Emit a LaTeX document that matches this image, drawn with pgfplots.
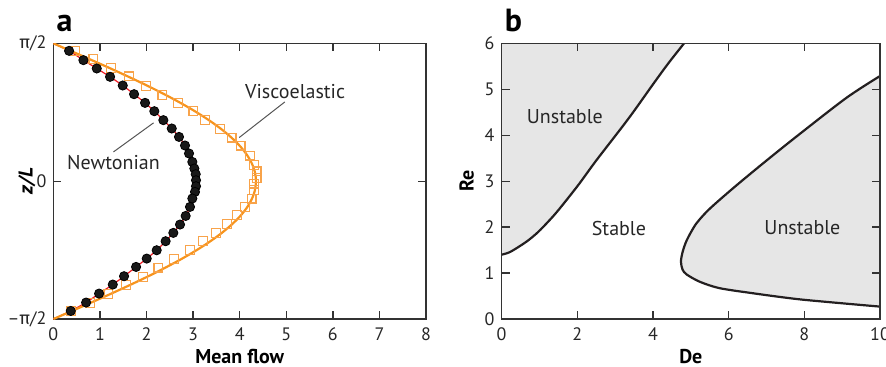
\documentclass[border=0pt]{standalone}
\usepackage{pgfplots}
\pgfplotsset{compat=1.18}
\usepackage{fontspec}
\setmainfont{PT Sans}
\newfontfamily\grk{Fira Sans}
\definecolor{vorange}{HTML}{F7941D}
\definecolor{sqorange}{HTML}{F8A34A}
\definecolor{nred}{HTML}{ED1C24}
\definecolor{fillgray}{HTML}{E6E6E6}
\definecolor{curvek}{HTML}{231F20}
\definecolor{leader}{HTML}{555555}
\begin{document}
\begin{tikzpicture}
\pgfplotsset{
  every axis/.append style={
    scale only axis,
    axis line style={line width=0.7pt, black!80},
    tick style={line width=0.7pt, black!80},
    major tick length=4pt,
    tick align=inside,
    xtick pos=both, ytick pos=both,
    tick label style={font=\fontsize{9}{10}\selectfont, text=black!85},
    label style={font=\bfseries\fontsize{10}{12}\selectfont},
    /pgf/number format/assume math mode=true,
    xticklabel style={yshift=-1pt},
  }
}
% ---------------- panel a ----------------
\begin{axis}[
  at={(0,0)}, anchor=south west,
  width=186.3pt, height=137.8pt,
  xmin=0, xmax=8, ymin=-1.5708, ymax=1.5708,
  xtick={0,1,2,3,4,5,6,7,8},
  ytick={-1.5708,0,1.5708},
  yticklabels={{–{\grk π}/2},{0},{{\grk π}/2}},
  xlabel={Mean flow},
  ylabel={\textbf{\textit{z/L}}},
  xlabel style={yshift=3pt},
  ylabel style={at={(axis description cs:-0.071,0.5)}, anchor=center},
  clip mode=individual,
]
% Newtonian fit (red line)
\addplot[nred, line width=0.6pt, smooth, tension=0.4] coordinates {
(0,1.5708) (0.337,1.486) (0.644,1.380) (0.931,1.285) (1.217,1.190) (1.489,1.091)
(1.732,0.992) (1.968,0.893) (2.167,0.798) (2.361,0.696) (2.541,0.601) (2.697,0.505)
(2.826,0.407) (2.912,0.316) (2.983,0.220) (3.026,0.145) (3.056,0.080) (3.062,0.011)
(3.062,-0.057) (3.040,-0.122) (2.983,-0.197) (2.933,-0.293) (2.840,-0.396) (2.719,-0.494)
(2.575,-0.589) (2.410,-0.684) (2.218,-0.787) (2.004,-0.882) (1.775,-0.977) (1.517,-1.083)
(1.275,-1.178) (0.981,-1.281) (0.702,-1.383) (0.373,-1.479) (0,-1.5708)
};
% Viscoelastic fit (orange line)
\addplot[vorange, line width=1.1pt, smooth, tension=0.5] coordinates {
(0,1.5708) (0.308,1.5) (0.739,1.4) (1.164,1.3) (1.576,1.2) (1.973,1.1) (2.350,1.0)
(2.704,0.9) (3.031,0.8) (3.327,0.7) (3.590,0.6) (3.817,0.5) (4.007,0.4) (4.156,0.3)
(4.263,0.2) (4.328,0.1) (4.350,0) (4.328,-0.1) (4.263,-0.2) (4.156,-0.3) (4.007,-0.4)
(3.817,-0.5) (3.590,-0.6) (3.327,-0.7) (3.031,-0.8) (2.704,-0.9) (2.350,-1.0)
(1.973,-1.1) (1.576,-1.2) (1.164,-1.3) (0.739,-1.4) (0.308,-1.5) (0,-1.5708)
};
% Viscoelastic data (open squares)
\addplot[only marks, mark=square, mark size=2.2pt, sqorange, mark options={line width=0.6pt}] coordinates {
(0.466,1.486) (0.858,1.395) (1.238,1.288) (1.624,1.194) (1.982,1.087) (2.339,0.984)
(2.669,0.889) (3.004,0.802) (3.255,0.699) (3.577,0.597) (3.828,0.498) (4.021,0.407)
(4.221,0.293) (4.307,0.186) (4.365,0.111) (4.365,0.034)
(4.307,-0.027) (4.307,-0.103) (4.257,-0.198) (4.114,-0.293) (3.936,-0.388) (3.721,-0.490)
(3.485,-0.589) (3.206,-0.684) (2.933,-0.787) (2.590,-0.889) (2.253,-0.984) (1.918,-1.091)
(1.554,-1.186) (1.180,-1.288) (0.788,-1.388) (0.373,-1.482)
};
% Newtonian data (filled circles)
\addplot[only marks, mark=*, mark size=2.3pt, black, mark options={fill=black!90}] coordinates {
(0.337,1.486) (0.644,1.380) (0.931,1.285) (1.217,1.190) (1.489,1.091)
(1.732,0.992) (1.968,0.893) (2.167,0.798) (2.361,0.696) (2.541,0.601) (2.697,0.505)
(2.826,0.407) (2.912,0.316) (2.983,0.220) (3.026,0.145) (3.056,0.080) (3.062,0.011)
(3.062,-0.057) (3.040,-0.122) (2.983,-0.197) (2.933,-0.293) (2.840,-0.396) (2.719,-0.494)
(2.575,-0.589) (2.410,-0.684) (2.218,-0.787) (2.004,-0.882) (1.775,-0.977) (1.517,-1.083)
(1.275,-1.178) (0.981,-1.281) (0.702,-1.383) (0.373,-1.479)
};
% leader lines
\addplot[leader, line width=0.5pt] coordinates {(4.97,0.904) (3.99,0.498)};
\addplot[leader, line width=0.5pt] coordinates {(1.29,0.334) (2.15,0.665)};
\node[font=\fontsize{10}{12}\selectfont, text=black!85] at (axis cs:5.19,1.018) {Viscoelastic};
\node[font=\fontsize{10}{12}\selectfont, text=black!85] at (axis cs:1.29,0.213) {Newtonian};
\node[font=\bfseries\fontsize{16}{18}\selectfont, anchor=base west] at (rel axis cs:-0.01,1.045) {a};
\end{axis}
% ---------------- panel b ----------------
\begin{axis}[
  at={(224.1pt,0)}, anchor=south west,
  width=189.2pt, height=137.8pt,
  xmin=0, xmax=10, ymin=0, ymax=6,
  xtick={0,2,4,6,8,10},
  ytick={0,1,2,3,4,5,6},
  xlabel={De},
  ylabel={Re},
  xlabel style={yshift=3pt},
  ylabel style={at={(axis description cs:-0.0925,0.5)}, anchor=center},
  axis on top,
  clip mode=individual,
]
\addplot[fill=fillgray, draw=none] coordinates {
(0,1.40) (0.2,1.45) (0.43,1.56) (0.7,1.71) (0.96,1.89) (1.22,2.11) (1.49,2.36)
(2.02,2.91) (2.50,3.45) (3.35,4.36) (4.01,5.12) (4.40,5.56) (4.82,6.0) (0,6.0)
} -- cycle;
\addplot[fill=fillgray, draw=none] coordinates {
(10,5.29) (9.12,4.82) (7.88,4.03) (7.00,3.45) (6.25,2.94) (5.70,2.55) (5.40,2.32)
(5.12,2.05) (4.89,1.71) (4.78,1.45) (4.74,1.25) (4.78,1.08) (4.89,0.97) (5.24,0.81)
(5.77,0.67) (6.65,0.56) (7.36,0.48) (7.97,0.42) (9.03,0.34) (10,0.27)
} -- cycle;
\addplot[curvek, line width=1.1pt, smooth, tension=0.5] coordinates {
(0,1.40) (0.2,1.45) (0.43,1.56) (0.7,1.71) (0.96,1.89) (1.22,2.11) (1.49,2.36)
(2.02,2.91) (2.50,3.45) (3.35,4.36) (4.01,5.12) (4.40,5.56) (4.82,6.0)
};
\addplot[curvek, line width=1.1pt, smooth, tension=0.5] coordinates {
(10,5.29) (9.12,4.82) (7.88,4.03) (7.00,3.45) (6.25,2.94) (5.70,2.55) (5.40,2.32)
(5.12,2.05) (4.89,1.71) (4.78,1.45) (4.74,1.25) (4.78,1.08) (4.89,0.97) (5.24,0.81)
(5.77,0.67) (6.65,0.56) (7.36,0.48) (7.97,0.42) (9.03,0.34) (10,0.27)
};
\node[font=\fontsize{10}{12}\selectfont, text=black!85] at (axis cs:1.67,4.40) {Unstable};
\node[font=\fontsize{10}{12}\selectfont, text=black!85] at (axis cs:3.10,1.98) {Stable};
\node[font=\fontsize{10}{12}\selectfont, text=black!85] at (axis cs:7.95,2.00) {Unstable};
\node[font=\bfseries\fontsize{16}{18}\selectfont, anchor=base west] at (rel axis cs:-0.01,1.045) {b};
\end{axis}
\pgfresetboundingbox
\useasboundingbox (-26.7pt,-23.5pt) rectangle (416.3pt,159.5pt);
\end{tikzpicture}
\end{document}
